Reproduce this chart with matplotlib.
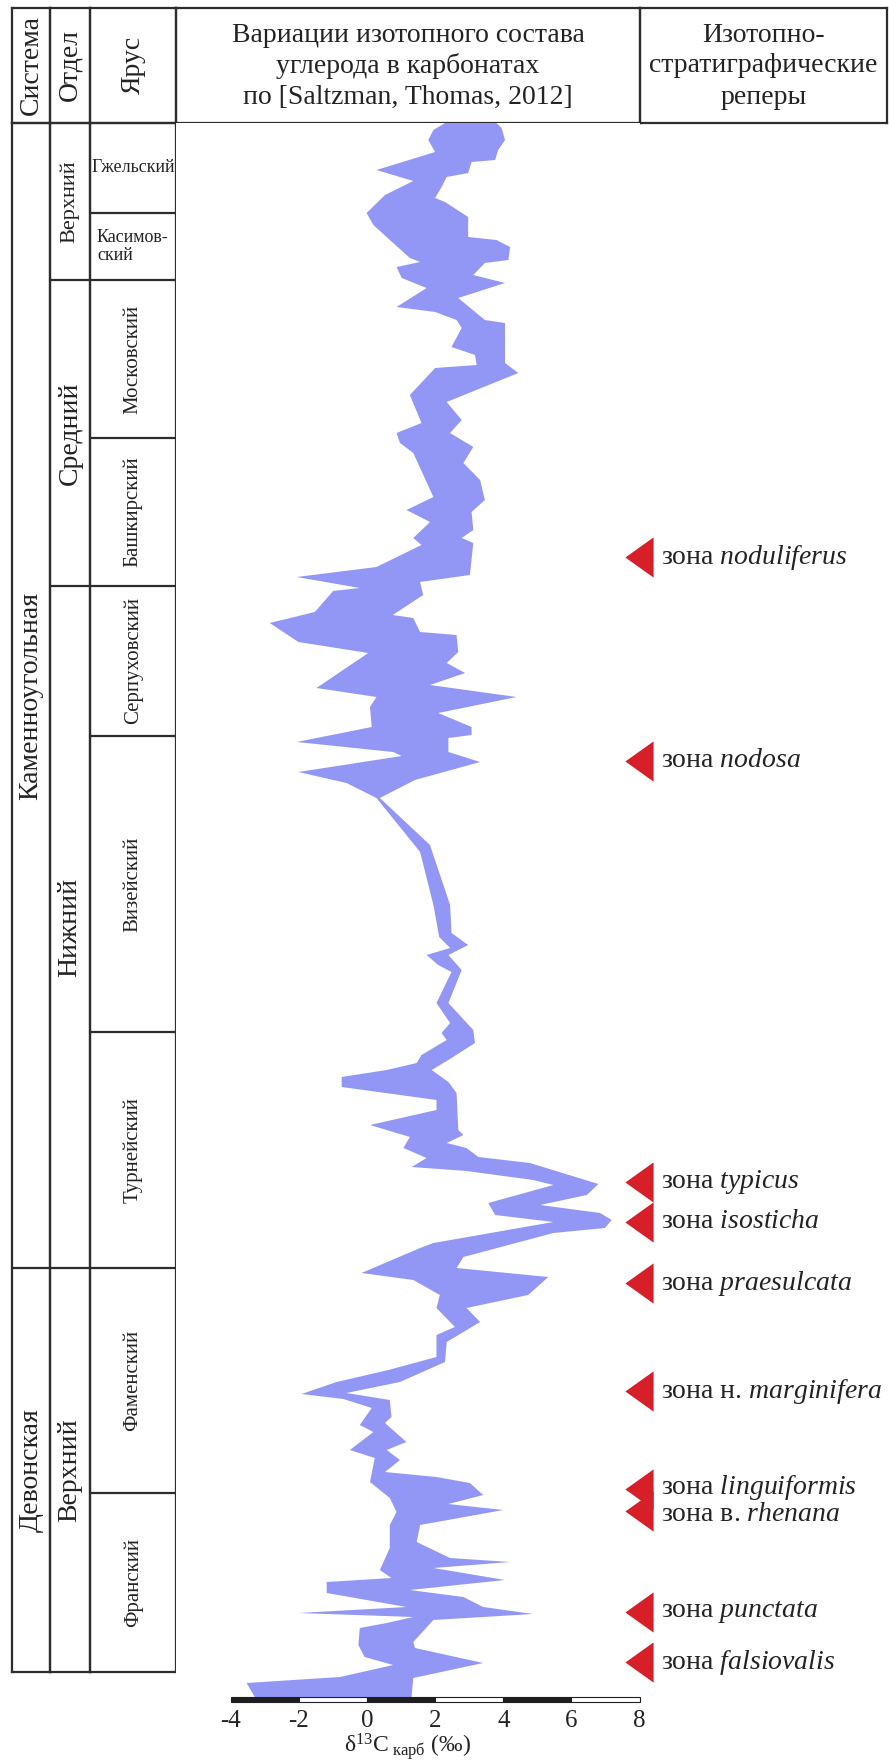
import numpy as np
import matplotlib
matplotlib.use("Agg")
import matplotlib.pyplot as plt
from matplotlib.path import Path

plt.rcParams['font.family'] = ['Liberation Serif', 'DejaVu Serif']
plt.rcParams['mathtext.fontset'] = 'custom'
plt.rcParams['mathtext.rm'] = 'Liberation Serif'
plt.rcParams['mathtext.it'] = 'Liberation Serif:italic'

W, H = 889, 1762

# ---- данные ----
# уровень в разрезе (сверху вниз), условные единицы
systems = ['Каменноугольная', 'Девонская']
system_tops = [123, 1268]

series = ['Верхний', 'Средний', 'Нижний', 'Верхний']
series_tops = [123, 280, 586, 1268]

stages = ['Гжельский', 'Касимов-\nский', 'Московский', 'Башкирский', 'Серпуховский',
          'Визейский', 'Турнейский', 'Фаменский', 'Франский']
stage_tops = [123, 213, 280, 438, 586, 736, 1032, 1268, 1493]
section_base = 1672

# левая граница полосы d13C
left_lvl = [123, 130, 140, 152, 170, 181, 195, 213, 225, 243, 258, 262, 267, 278, 288,
            307, 312, 320, 328, 347, 355, 365, 368, 395, 423, 433, 443, 453, 497, 510,
            522, 538, 545, 567, 577, 588, 591, 612, 623, 642, 653, 688, 697, 707, 727,
            742, 752, 756, 772, 783, 798, 852, 905, 937, 948, 955, 965, 972, 1003, 1023,
            1033, 1040, 1055, 1063, 1070, 1077, 1087, 1100, 1110, 1125, 1137, 1148, 1158,
            1167, 1171, 1180, 1185, 1203, 1215, 1222, 1243, 1248, 1273, 1280, 1295, 1308,
            1327, 1335, 1357, 1370, 1382, 1394, 1399, 1408, 1425, 1432, 1450, 1458, 1482,
            1498, 1512, 1525, 1548, 1570, 1578, 1582, 1593, 1607, 1613, 1617, 1623, 1628,
            1645, 1657, 1665, 1677, 1683, 1697]
left_d13c = [2.29, 1.95, 1.80, 2.00, 0.28, 1.36, 0.53, -0.01, 0.19, 0.77, 1.26, 1.56, 0.87,
             1.02, 1.75, 0.87, 2.00, 2.63, 2.78, 2.48, 3.17, 3.22, 2.00, 1.26, 1.60, 0.87,
             0.97, 1.36, 1.95, 1.16, 1.85, 1.36, 1.60, 0.28, -2.06, -0.21, -0.99, -1.53,
             -2.85, -2.01, 0.04, -1.48, 0.28, 0.09, 0.14, -2.06, 0.77, 1.02, -2.01, -0.60,
             0.28, 1.56, 1.95, 2.12, 2.44, 1.75, 2.09, 2.48, 2.04, 2.44, 2.19, 2.34, 1.60,
             1.46, 0.58, -0.74, -0.74, 2.04, 2.04, 0.09, 1.26, 1.07, 1.75, 1.31, 2.92, 4.88,
             5.47, 3.56, 3.76, 5.47, 1.95, 1.56, -0.16, 1.36, 2.14, 2.04, 2.58, 2.04, 2.04,
             0.63, -0.89, -1.92, -0.69, 0.14, -0.21, 0.19, -0.50, 0.23, 0.09, 0.67, 0.87,
             0.67, 0.67, 0.38, 0.72, -1.18, -1.18, 1.16, -2.01, 1.36, 0.58, -0.21, -0.25,
             -0.07, 0.77, -0.79, -3.53, -3.29]

# правая граница полосы d13C
right_lvl = [123, 128, 140, 150, 160, 162, 173, 177, 187, 198, 202, 217, 237, 240, 247,
             260, 263, 275, 283, 298, 320, 323, 363, 373, 402, 420, 433, 447, 463, 480,
             500, 512, 530, 538, 543, 575, 582, 595, 615, 618, 632, 635, 652, 663, 673,
             685, 697, 713, 727, 735, 738, 752, 762, 780, 798, 845, 905, 933, 945, 955,
             970, 1003, 1030, 1043, 1060, 1070, 1082, 1093, 1130, 1135, 1143, 1148, 1157,
             1163, 1184, 1195, 1205, 1213, 1220, 1228, 1233, 1257, 1268, 1277, 1295, 1308,
             1322, 1342, 1362, 1382, 1393, 1400, 1417, 1423, 1442, 1450, 1460, 1472, 1477,
             1483, 1495, 1504, 1510, 1525, 1542, 1558, 1562, 1568, 1580, 1590, 1597, 1607,
             1614, 1620, 1642, 1648, 1663, 1678, 1697]
right_d13c = [3.80, 3.95, 4.05, 3.85, 3.76, 3.07, 2.97, 2.34, 2.19, 2.00, 2.29, 2.97, 2.97,
              3.80, 4.20, 4.15, 3.46, 3.12, 4.05, 2.68, 3.46, 4.05, 4.05, 4.44, 2.34, 2.78,
              2.44, 3.12, 2.83, 3.32, 3.46, 3.07, 3.12, 2.78, 3.12, 3.02, 1.56, 1.65, 0.76,
              1.36, 1.56, 2.63, 2.68, 2.34, 2.88, 1.85, 4.39, 2.09, 3.07, 3.07, 2.39, 2.39,
              3.32, 1.41, 0.38, 1.85, 2.44, 2.48, 2.97, 2.39, 2.78, 2.39, 3.12, 3.17, 2.39,
              1.90, 2.39, 2.63, 2.68, 2.83, 2.34, 2.92, 3.27, 4.78, 6.79, 6.45, 5.08, 6.84,
              7.18, 6.98, 5.47, 2.83, 2.63, 5.32, 4.73, 2.92, 3.32, 2.34, 2.29, 0.97, -0.60,
              0.67, 0.72, 0.53, 1.16, 0.58, 0.97, 0.53, 2.04, 3.02, 3.41, 2.39, 4.00, 1.56,
              1.46, 2.44, 4.20, 1.95, 4.05, 1.26, 2.83, 3.41, 4.87, 1.95, 1.36, 1.41, 3.41,
              1.36, 1.31]

# изотопно-стратиграфические реперы
zone_lvl = [557, 761, 1182, 1222, 1283, 1391, 1489, 1511, 1612, 1662]
zone_prefix = ['', '', '', '', '', 'н. ', '', 'в. ', '', '']
zone_name = ['noduliferus', 'nodosa', 'typicus', 'isosticha', 'praesulcata',
             'marginifera', 'linguiformis', 'rhenana', 'punctata', 'falsiovalis']

x_ticks = [-4, -2, 0, 2, 4, 6, 8]
x_ticklabels = ['-4', '-2', '0', '2', '4', '6', '8']

# ---- оформление ----
LINE = '#2d2d2d'
TXT = '#232323'
LW = 1.6
BAND = '#9297f6'
RED = '#d71f29'


def px_rect(x0, y0, x1, y1):
    return [x0 / W, 1 - y1 / H, (x1 - x0) / W, (y1 - y0) / H]


def cell_frame(ax):
    ax.set_xticks([])
    ax.set_yticks([])
    ax.patch.set_alpha(0)
    for sp in ax.spines.values():
        sp.set_linewidth(LW)
        sp.set_color(LINE)


fig = plt.figure(figsize=(W / 100, H / 100), dpi=100)

# шапка таблицы
header = [
    (12, 50, ['Система'], 90),
    (50, 90, ['Отдел'], 90),
    (90, 176, ['Ярус'], 90),
    (176, 640, ['Вариации изотопного состава', 'углерода в карбонатах',
                'по [Saltzman, Thomas, 2012]'], 0),
    (640, 887, ['Изотопно-', 'стратиграфические', 'реперы'], 0),
]
for x0, x1, lines, rot in header:
    ax = fig.add_axes(px_rect(x0, 8, x1, 123))
    cell_frame(ax)
    ax.set_xlim(0, 1)
    ax.set_ylim(123, 8)
    if rot:
        ax.text(0.5, 65, lines[0], rotation=90, ha='center', va='center',
                fontsize=20, color=TXT)
    else:
        for y, s in zip([35, 66, 97], lines):
            ax.text(0.5, y, s, ha='center', va='center', fontsize=20, color=TXT)

# стратиграфические колонки
columns = [
    (12, 50, systems, system_tops, 20),
    (50, 90, series, series_tops, 20),
    (90, 176, stages, stage_tops, 15),
]
for x0, x1, names, tops, fs in columns:
    ax = fig.add_axes(px_rect(x0, 123, x1, section_base))
    cell_frame(ax)
    ax.set_xlim(0, 1)
    ax.set_ylim(section_base, 123)
    ax.hlines(tops[1:], 0, 1, color=LINE, lw=LW)
    bots = tops[1:] + [section_base]
    for name, t, b in zip(names, tops, bots):
        mid = (t + b) / 2
        if b - t < 100:
            if '\n' in name:
                ax.text(0.08, mid, name, ha='left', va='center', fontsize=13,
                        color=TXT, linespacing=1.0)
            else:
                ax.text(0.5, mid, name, ha='center', va='center', fontsize=13, color=TXT)
        else:
            size = 16 if (b - t < 200 and fs == 20) else fs
            ax.text(0.5, mid, name, rotation=90, ha='center', va='center',
                    fontsize=size, color=TXT)

# кривая d13C
ax = fig.add_axes(px_rect(176, 123, 640, 1702))
ax.set_xlim(-5.60, 8.01)
ax.set_ylim(1702, 123)
poly_x = np.concatenate([left_d13c, right_d13c[::-1]])
poly_y = np.concatenate([left_lvl, right_lvl[::-1]])
ax.fill(poly_x, poly_y, color=BAND, lw=0)

# масштабная линейка
ax.barh(1699.5, np.diff(x_ticks), left=x_ticks[:-1], height=5,
        color=['#1e1e1e', 'white'] * 3, edgecolor='#1e1e1e', lw=0.8, clip_on=False)
for sp in ax.spines.values():
    sp.set_visible(False)
ax.set_yticks([])
ax.set_xticks(x_ticks)
ax.set_xticklabels(x_ticklabels, fontsize=18, color=TXT)
ax.tick_params(axis='x', length=0, pad=6)
ax.set_xlabel(r'$\mathrm{δ}^{13}\mathrm{C}_{\ \mathrm{карб}}\ \mathrm{(‰)}$',
              fontsize=17, color=TXT, labelpad=-1)

# реперы
ax = fig.add_axes(px_rect(600, 123, 889, 1702))
ax.set_xlim(600, 889)
ax.set_ylim(1702, 123)
ax.axis('off')
tri = Path([(-0.7, 0), (0.7, 1), (0.7, -1), (-0.7, 0)],
           [Path.MOVETO, Path.LINETO, Path.LINETO, Path.CLOSEPOLY])
ax.scatter([639] * len(zone_lvl), zone_lvl, marker=tri, s=29 ** 2, color=RED,
           lw=0, clip_on=False)

# близко стоящие подписи объединяем в один блок
labels = ['зона ' + p + r'$\mathit{' + n + '}$' for p, n in zip(zone_prefix, zone_name)]
groups = [[0]]
for i in range(1, len(zone_lvl)):
    if zone_lvl[i] - zone_lvl[i - 1] < 30:
        groups[-1].append(i)
    else:
        groups.append([i])
for g in groups:
    y = np.mean([zone_lvl[i] for i in g])
    ax.text(661, y, '\n'.join(labels[i] for i in g), ha='left', va='center',
            fontsize=20, color=TXT, linespacing=0.95)

fig.savefig('out.png', dpi=100)
